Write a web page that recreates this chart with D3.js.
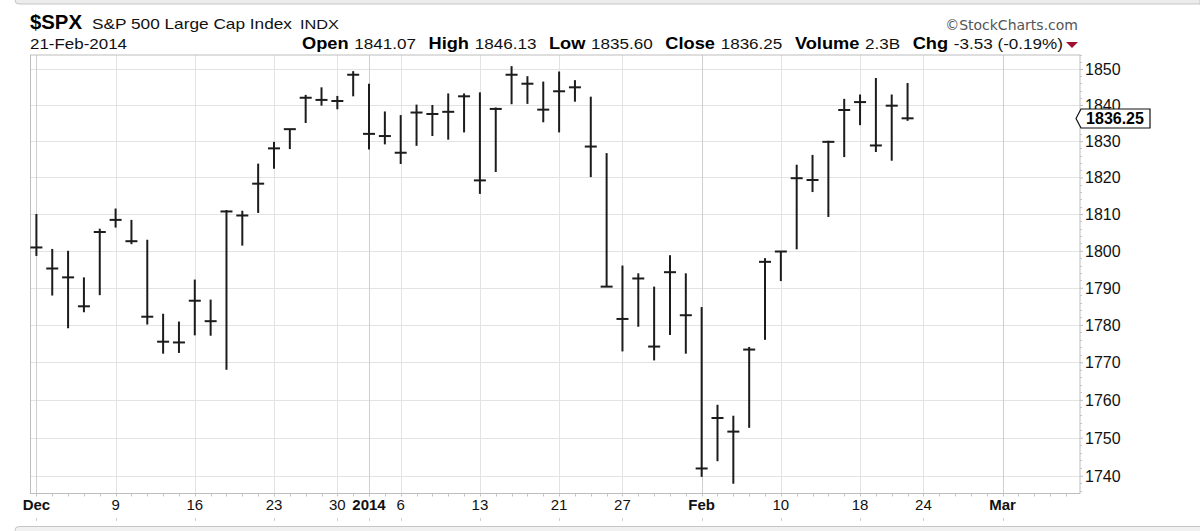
<!DOCTYPE html>
<html>
<head>
<meta charset="utf-8">
<script src="https://cdn.jsdelivr.net/npm/d3@7"></script>
<style>
  html, body { margin: 0; padding: 0; background: #fff; }
  svg { display: block; font-family: "Liberation Sans", Arial, sans-serif; }
</style>
</head>
<body>
<svg id="chart" width="1200" height="531"></svg>
<script>
// daily bars, $SPX Dec 2013 - Feb 2014
var dates = [
  "2013-12-02","2013-12-03","2013-12-04","2013-12-05","2013-12-06",
  "2013-12-09","2013-12-10","2013-12-11","2013-12-12","2013-12-13",
  "2013-12-16","2013-12-17","2013-12-18","2013-12-19","2013-12-20",
  "2013-12-23","2013-12-24","2013-12-26","2013-12-27","2013-12-30","2013-12-31",
  "2014-01-02","2014-01-03","2014-01-06","2014-01-07","2014-01-08","2014-01-09","2014-01-10",
  "2014-01-13","2014-01-14","2014-01-15","2014-01-16","2014-01-17",
  "2014-01-21","2014-01-22","2014-01-23","2014-01-24",
  "2014-01-27","2014-01-28","2014-01-29","2014-01-30","2014-01-31",
  "2014-02-03","2014-02-04","2014-02-05","2014-02-06","2014-02-07",
  "2014-02-10","2014-02-11","2014-02-12","2014-02-13","2014-02-14",
  "2014-02-18","2014-02-19","2014-02-20","2014-02-21"
];
var highs = [
  1810.0,1800.5,1800.0,1792.8,1806.0,
  1811.5,1808.4,1803.0,1783.0,1780.9,
  1792.2,1786.8,1811.1,1810.9,1823.8,
  1829.8,1833.3,1842.8,1844.9,1842.5,1849.4,
  1845.9,1838.2,1837.2,1840.1,1840.0,1843.2,1843.2,
  1843.5,1839.3,1850.8,1848.0,1846.5,
  1849.3,1846.9,1842.3,1826.7,
  1796.0,1793.9,1790.3,1798.8,1793.9,
  1784.8,1758.7,1755.8,1774.1,1798.0,
  1799.9,1823.5,1826.2,1830.1,1841.7,
  1842.9,1847.5,1842.9,1846.1
];
var lows = [
  1798.6,1787.9,1779.1,1783.4,1788.0,
  1806.3,1801.8,1780.1,1772.3,1772.5,
  1777.2,1777.1,1768.0,1801.4,1810.3,
  1822.4,1827.8,1835.0,1839.8,1838.8,1842.4,
  1827.7,1829.1,1823.7,1828.7,1831.4,1830.4,1832.4,
  1815.5,1821.5,1840.2,1840.3,1835.2,
  1832.4,1840.9,1820.1,1790.3,
  1772.9,1779.5,1770.5,1777.3,1772.3,
  1739.7,1743.8,1737.9,1752.6,1776.0,
  1791.8,1800.4,1816.0,1809.2,1825.6,
  1834.4,1827.0,1824.6,1835.6
];
var closes = [
  1800.9,1795.2,1792.8,1785.0,1805.1,
  1808.4,1802.6,1782.2,1775.5,1775.3,
  1786.5,1781.0,1810.7,1809.6,1818.3,
  1828.0,1833.3,1842.0,1841.4,1841.1,1848.4,
  1832.0,1831.4,1826.8,1837.9,1837.5,1838.1,1842.4,
  1819.2,1838.9,1848.4,1845.9,1838.7,
  1843.8,1844.9,1828.5,1790.3,
  1781.6,1792.5,1774.2,1794.2,1782.6,
  1741.9,1755.2,1751.6,1773.4,1797.0,
  1799.8,1819.8,1819.3,1829.8,1838.6,
  1840.8,1828.8,1839.8,1836.3
];
// trading days after the last bar, still on the axis
var futureDates = [
  "2014-02-24","2014-02-25","2014-02-26","2014-02-27","2014-02-28",
  "2014-03-03","2014-03-04","2014-03-05","2014-03-06","2014-03-07"
];
var xTickDates  = ["2013-12-02","2013-12-09","2013-12-16","2013-12-23","2013-12-30","2014-01-02","2014-01-06","2014-01-13","2014-01-21","2014-01-27","2014-02-03","2014-02-10","2014-02-18","2014-02-24","2014-03-03"];
var xTickLabels = ["Dec","9","16","23","30","2014","6","13","21","27","Feb","10","18","24","Mar"];
var xTickBold   = [true,false,false,false,false,true,false,false,false,false,true,false,false,false,true];
var yTicks = [1740,1750,1760,1770,1780,1790,1800,1810,1820,1830,1840,1850];

var lastClose = "1836.25";
var headerFields = [
  ["Open", "1841.07"], ["High", "1846.13"], ["Low", "1835.60"],
  ["Close", "1836.25"], ["Volume", "2.3B"], ["Chg", "-3.53 (-0.19%)"]
];

var svg = d3.select("#chart");
var allDays = dates.concat(futureDates);
var dayIndex = {};
allDays.forEach(function (d, i) { dayIndex[d] = i; });

var frame = { left: 30.5, right: 1080, top: 55, bottom: 493.5 };

var x = d3.scaleLinear()
    .domain([0, dayIndex["2014-03-03"]])
    .range([36.4, 1002.6]);

// log price scale like StockCharts
var y = d3.scaleLog()
    .domain([1740, 1850])
    .range([475.7, 69]);

// panel edges of the page
svg.append("path")
    .attr("d", "M1200,-2 L15,-2 L15,0 Q15,4 19,4 L1200,4 Z")
    .attr("fill", "#ececec")
    .attr("stroke", "#c6c6c6");
svg.append("rect")
    .attr("x", 15).attr("y", 526.5)
    .attr("width", 1200).attr("height", 10)
    .attr("rx", 4)
    .attr("fill", "#f1f1f1")
    .attr("stroke", "#c6c6c6");

// grid
var grid = svg.append("g").attr("class", "grid");
grid.selectAll("line.h")
    .data(yTicks)
    .enter().append("line")
    .attr("class", "h")
    .attr("x1", frame.left).attr("x2", frame.right)
    .attr("y1", function (d) { return Math.round(y(d)) + 0.5; })
    .attr("y2", function (d) { return Math.round(y(d)) + 0.5; })
    .attr("stroke", "#e3e3e3");
grid.selectAll("line.v")
    .data(xTickDates)
    .enter().append("line")
    .attr("class", "v")
    .attr("x1", function (d) { return Math.round(x(dayIndex[d])) + 0.5; })
    .attr("x2", function (d) { return Math.round(x(dayIndex[d])) + 0.5; })
    .attr("y1", frame.top).attr("y2", frame.bottom)
    .attr("stroke", function (d, i) { return xTickBold[i] ? "#cfcfcf" : "#e3e3e3"; });

// frame
svg.append("rect")
    .attr("x", frame.left).attr("y", frame.top)
    .attr("width", frame.right - frame.left)
    .attr("height", frame.bottom - frame.top)
    .attr("fill", "none")
    .attr("stroke", "#bdbdbd");

// right axis
var yAxis = d3.axisRight(y)
    .tickValues(yTicks)
    .tickFormat(d3.format("d"))
    .tickSize(3)
    .tickPadding(2);
var yAxisG = svg.append("g")
    .attr("transform", "translate(" + frame.right + ",0)")
    .call(yAxis);
yAxisG.select(".domain").remove();
yAxisG.selectAll(".tick line").attr("stroke", "#bdbdbd");
yAxisG.selectAll(".tick text")
    .attr("font-family", "Liberation Sans, Arial, sans-serif")
    .attr("font-size", 16)
    .attr("fill", "#111")
    .attr("dy", "0.34em");

var minorY = d3.range(1736, 1856, 2).filter(function (v) { return v % 10 !== 0; });
svg.append("g").selectAll("line")
    .data(minorY)
    .enter().append("line")
    .attr("x1", frame.right).attr("x2", frame.right + 2)
    .attr("y1", function (d) { return Math.round(y(d)) + 0.5; })
    .attr("y2", function (d) { return Math.round(y(d)) + 0.5; })
    .attr("stroke", "#c4c4c4");

// bottom axis: small tick per trading day
svg.append("g").selectAll("line")
    .data(allDays)
    .enter().append("line")
    .attr("x1", function (d) { return Math.round(x(dayIndex[d])) + 0.5; })
    .attr("x2", function (d) { return Math.round(x(dayIndex[d])) + 0.5; })
    .attr("y1", frame.bottom).attr("y2", frame.bottom + 3)
    .attr("stroke", "#c4c4c4");

var xLabels = svg.append("g");
xLabels.selectAll("text")
    .data(xTickDates)
    .enter().append("text")
    .attr("x", function (d) { return x(dayIndex[d]); })
    .attr("y", 510)
    .attr("text-anchor", "middle")
    .attr("font-size", 15)
    .attr("font-weight", function (d, i) { return xTickBold[i] ? "bold" : "normal"; })
    .attr("fill", "#111")
    .text(function (d, i) { return xTickLabels[i]; });
xLabels.selectAll("line")
    .data(xTickDates)
    .enter().append("line")
    .attr("x1", function (d) { return Math.round(x(dayIndex[d])) + 0.5; })
    .attr("x2", function (d) { return Math.round(x(dayIndex[d])) + 0.5; })
    .attr("y1", 518).attr("y2", 521)
    .attr("stroke", "#d0d0d0");

// HLC bars
var bars = svg.append("g")
    .selectAll("g")
    .data(dates)
    .enter().append("g");
bars.append("line")
    .attr("x1", function (d) { return x(dayIndex[d]); })
    .attr("x2", function (d) { return x(dayIndex[d]); })
    .attr("y1", function (d, i) { return y(highs[i]); })
    .attr("y2", function (d, i) { return y(lows[i]); })
    .attr("stroke", "#1c1c1c")
    .attr("stroke-width", 2);
bars.append("line")
    .attr("x1", function (d) { return x(dayIndex[d]) - 6; })
    .attr("x2", function (d) { return x(dayIndex[d]) + 6; })
    .attr("y1", function (d, i) { return y(closes[i]); })
    .attr("y2", function (d, i) { return y(closes[i]); })
    .attr("stroke", "#1c1c1c")
    .attr("stroke-width", 2);

// last close tag on the right axis
var tagY = y(+lastClose);
var tag = svg.append("g");
tag.append("path")
    .attr("d", "M" + (frame.right - 4) + "," + tagY +
               " L" + (frame.right + 1) + "," + (tagY - 9.5) +
               " L1150," + (tagY - 9.5) +
               " L1150," + (tagY + 9.5) +
               " L" + (frame.right + 1) + "," + (tagY + 9.5) + " Z")
    .attr("fill", "#fff")
    .attr("stroke", "#111")
    .attr("stroke-width", 1.2);
tag.append("text")
    .attr("x", 1115).attr("y", tagY)
    .attr("dy", "0.36em")
    .attr("text-anchor", "middle")
    .attr("font-size", 16)
    .attr("font-weight", "bold")
    .attr("fill", "#000")
    .text(lastClose);

// header
var head = svg.append("g");
head.append("text")
    .attr("x", 30).attr("y", 29)
    .attr("font-size", 21).attr("font-weight", "bold")
    .attr("fill", "#000")
    .attr("textLength", 52).attr("lengthAdjust", "spacingAndGlyphs")
    .text("$SPX");
head.append("text")
    .attr("x", 92).attr("y", 29)
    .attr("font-size", 15)
    .attr("fill", "#111")
    .attr("textLength", 200).attr("lengthAdjust", "spacingAndGlyphs")
    .text("S&P 500 Large Cap Index");
head.append("text")
    .attr("x", 300).attr("y", 29)
    .attr("font-size", 13)
    .attr("fill", "#111")
    .attr("textLength", 39).attr("lengthAdjust", "spacingAndGlyphs")
    .text("INDX");
head.append("text")
    .attr("x", 1078).attr("y", 30)
    .attr("text-anchor", "end")
    .attr("font-family", "DejaVu Sans, Verdana, sans-serif")
    .attr("font-size", 14)
    .attr("fill", "#555")
    .text("\u00a9StockCharts.com");
head.append("text")
    .attr("x", 30).attr("y", 49)
    .attr("font-size", 14)
    .attr("fill", "#111")
    .attr("textLength", 97).attr("lengthAdjust", "spacingAndGlyphs")
    .text("21-Feb-2014");

// Open / High / Low ... laid out in a row, then fitted to its span
var row = head.append("g");
var cx = 0;
headerFields.forEach(function (f) {
    var lab = row.append("text")
        .attr("x", cx).attr("y", 0)
        .attr("font-size", 16).attr("font-weight", "bold")
        .attr("fill", "#000")
        .text(f[0]);
    cx += lab.node().getComputedTextLength() + 5;
    var val = row.append("text")
        .attr("x", cx).attr("y", 0)
        .attr("font-size", 15)
        .attr("fill", "#111")
        .text(f[1]);
    cx += val.node().getComputedTextLength() + 11;
});
cx -= 11;
var rowScale = (1063 - 302) / cx;
row.attr("transform", "translate(302,49) scale(" + rowScale + ",1)");

// down arrow after Chg
head.append("path")
    .attr("d", "M1066,42 L1078,42 L1072,48 Z")
    .attr("fill", "#a0102e");
</script>
</body>
</html>
